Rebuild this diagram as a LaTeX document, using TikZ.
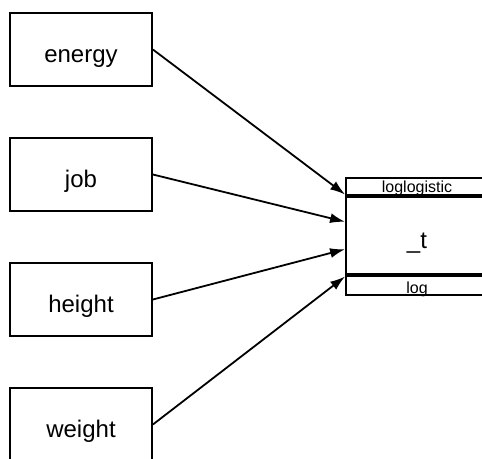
\documentclass[tikz,border=0pt]{standalone}
\usepackage{fontspec}
\setmainfont{Liberation Sans}
\usepackage{tikz}
\usetikzlibrary{shapes,arrows.meta,positioning}
\tikzstyle{var} = [rectangle, draw, line width=1.8pt, minimum width=142pt,
    minimum height=73pt, inner sep=0pt, text height=26pt, text depth=0pt,
    font=\fontsize{24}{28}\selectfont]
\tikzstyle{block} = [rectangle, draw, line width=1.8pt, minimum width=142pt,
    minimum height=77pt, inner sep=0pt, text height=25pt, text depth=0pt,
    font=\fontsize{24}{28}\selectfont]
\tikzstyle{strip} = [rectangle, draw, line width=1.8pt, minimum width=142pt,
    inner sep=0pt, text depth=0pt, font=\fontsize{16}{18}\selectfont]
\tikzstyle{line} = [draw, line width=1.8pt, -{Latex[length=15pt,width=10pt]}]

\begin{document}
\begin{tikzpicture}[x=1pt, y=-1pt, node distance = 125pt]
    \useasboundingbox (0,0) rectangle (482,458);
    % Place nodes
    \node [var] (energy) at (81,49.5) {energy};
    \node [var, below of=energy] (job) {job};
    \node [var, below of=job] (height) {height};
    \node [var, below of=height] (weight) {weight};
    \node [block] (surv) at (417,235.5) {\_t};
    \node [strip, minimum height=17pt, text height=11pt, anchor=south] (dist) at (surv.north) {loglogistic};
    \node [strip, minimum height=19pt, text height=17pt, anchor=north] (link) at (surv.south) {log};
    \draw [line width=3.4pt] (dist.south west) -- (dist.south east);
    \draw [line width=3.4pt] (link.north west) -- (link.north east);
    % Draw edges
    \coordinate (in1) at ([yshift=41pt]surv.west);
    \coordinate (in2) at ([yshift=13.7pt]surv.west);
    \coordinate (in3) at ([yshift=-13.7pt]surv.west);
    \coordinate (in4) at ([yshift=-41pt]surv.west);
    \path [line] (energy.east) -- (in1);
    \path [line] (job.east) -- (in2);
    \path [line] (height.east) -- (in3);
    \path [line] (weight.east) -- (in4);
\end{tikzpicture}
\end{document}
